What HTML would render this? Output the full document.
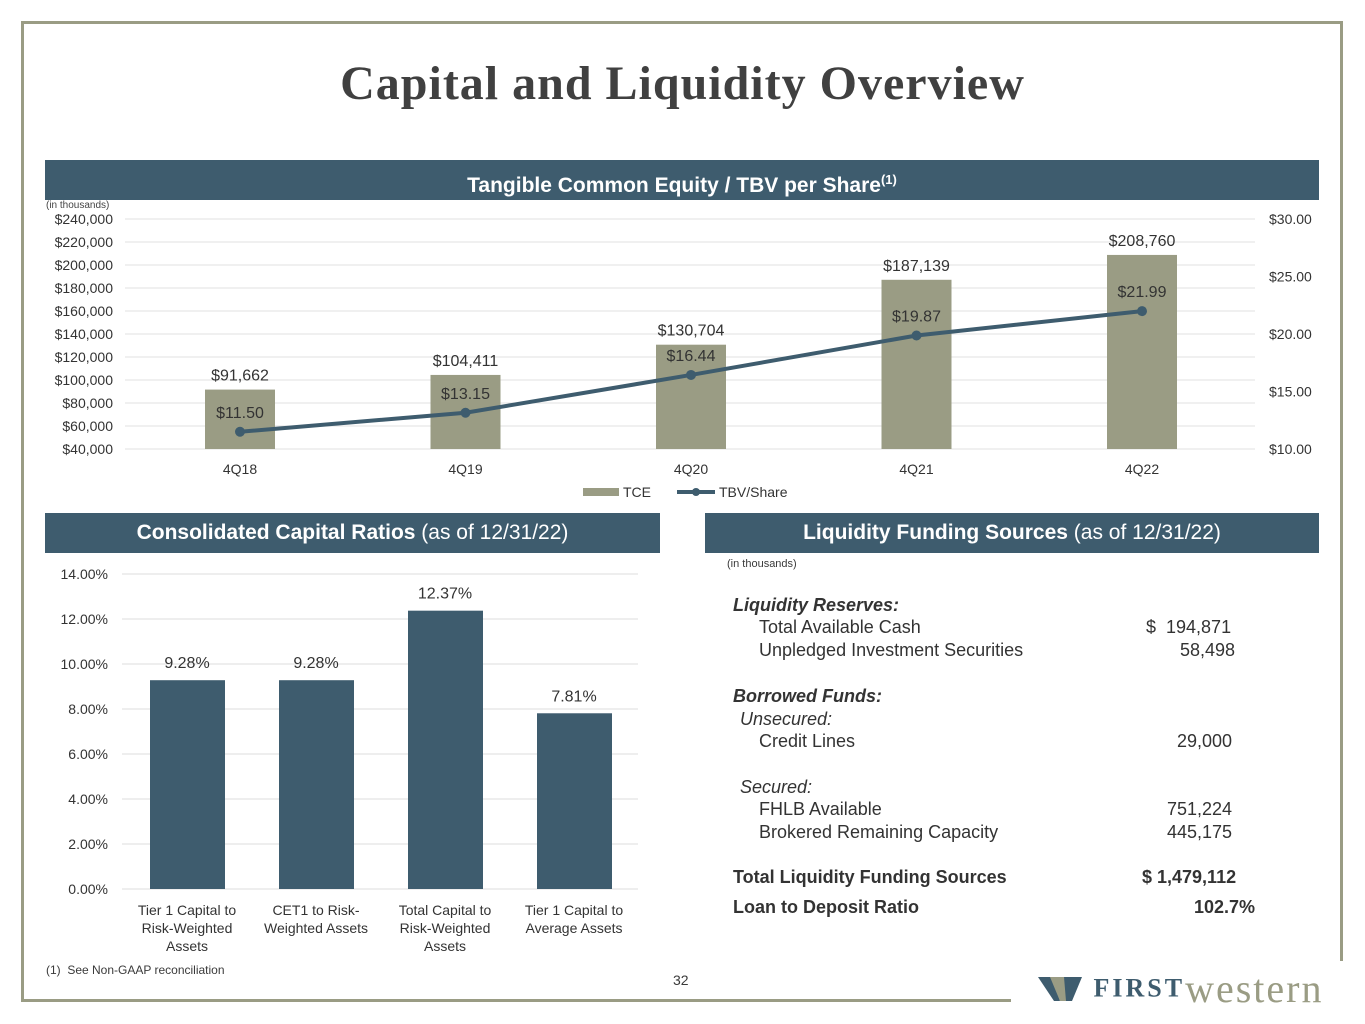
<!DOCTYPE html>
<html><head><meta charset="utf-8"><style>
body{margin:0;width:1365px;height:1024px;background:#fff;font-family:"Liberation Sans",sans-serif;position:relative;overflow:hidden;color:#3a3a3a}
.abs{position:absolute}
.band{position:absolute;background:#3e5c6e;color:#fff;font-weight:bold;font-size:21px;text-align:center;line-height:40px;height:40px}
.band span{font-weight:normal}
.liq{position:absolute;font-size:18px;color:#333}
</style></head><body>
<div class="abs" style="left:22px;top:21px;width:1321px;height:3px;background:#9a9c84"></div>
<div class="abs" style="left:21px;top:21px;width:3px;height:981px;background:#9a9c84"></div>
<div class="abs" style="left:21px;top:999px;width:990px;height:3px;background:#9a9c84"></div>
<div class="abs" style="left:1340px;top:21px;width:3px;height:940px;background:#9a9c84"></div>
<div class="abs" style="left:0;width:1365px;top:56px;text-align:center;font-family:'Liberation Serif',serif;font-weight:bold;font-size:48px;letter-spacing:1px;color:#404040">Capital and Liquidity Overview</div>
<div class="band" style="left:45px;top:160px;width:1274px">Tangible Common Equity / TBV per Share<sup style="font-size:13px">(1)</sup></div>
<div class="band" style="left:45px;top:513px;width:615px">Consolidated Capital Ratios <span>(as of 12/31/22)</span></div>
<div class="band" style="left:705px;top:513px;width:614px">Liquidity Funding Sources <span>(as of 12/31/22)</span></div>

<svg id="top" class="abs" style="left:0;top:0" width="1365" height="510"></svg>
<svg id="bot" class="abs" style="left:0;top:0" width="700" height="1024"></svg>

<div class="abs" style="left:727px;top:558px;font-size:11px">(in thousands)</div>
<div class="liq" style="left:733px;top:595px;font-weight:bold;font-style:italic">Liquidity Reserves:</div>
<div class="liq" style="left:759px;top:617px">Total Available Cash</div>
<div class="liq" style="left:1146px;top:617px">$&nbsp;&nbsp;194,871</div>
<div class="liq" style="left:759px;top:640px">Unpledged Investment Securities</div>
<div class="liq" style="left:1180px;top:640px">58,498</div>
<div class="liq" style="left:733px;top:686px;font-weight:bold;font-style:italic">Borrowed Funds:</div>
<div class="liq" style="left:740px;top:709px;font-style:italic">Unsecured:</div>
<div class="liq" style="left:759px;top:731px">Credit Lines</div>
<div class="liq" style="left:1177px;top:731px">29,000</div>
<div class="liq" style="left:740px;top:777px;font-style:italic">Secured:</div>
<div class="liq" style="left:759px;top:799px">FHLB Available</div>
<div class="liq" style="left:1167px;top:799px">751,224</div>
<div class="liq" style="left:759px;top:822px">Brokered Remaining Capacity</div>
<div class="liq" style="left:1167px;top:822px">445,175</div>
<div class="liq" style="left:733px;top:867px;font-weight:bold">Total Liquidity Funding Sources</div>
<div class="liq" style="left:1142px;top:867px;font-weight:bold">$ 1,479,112</div>
<div class="liq" style="left:733px;top:897px;font-weight:bold">Loan to Deposit Ratio</div>
<div class="liq" style="left:1194px;top:897px;font-weight:bold">102.7%</div>

<div class="abs" style="left:46px;top:963px;font-size:12px">(1)&nbsp; See Non-GAAP reconciliation</div>
<div class="abs" style="left:673px;top:972px;font-size:14px">32</div>
<div class="abs" style="left:1038px;top:965px;white-space:nowrap">
<svg width="46" height="32" style="vertical-align:middle"><polygon points="0,4 14,4 22,28 16,28" fill="#3e5c6e"/><polygon points="12,4 26,4 32,28 22,28" fill="#9a9c84"/><polygon points="26,4 44,4 34,28 28,28" fill="#3e5c6e"/></svg><span style="font-family:'Liberation Serif',serif;font-weight:bold;font-size:26px;color:#3e5c6e;letter-spacing:3px;vertical-align:middle"> FIRST</span><span style="font-family:'Liberation Serif',serif;font-size:40px;color:#9a9c84;letter-spacing:2px;vertical-align:middle">western</span></div>

<script>
const cats=["4Q18","4Q19","4Q20","4Q21","4Q22"];
const tce=[91662,104411,130704,187139,208760];
const tbv=[11.50,13.15,16.44,19.87,21.99];
const leftTicks=[40000,60000,80000,100000,120000,140000,160000,180000,200000,220000,240000];
const rightTicks=[10,15,20,25,30];
const ratioCats=[["Tier 1 Capital to","Risk-Weighted","Assets"],["CET1 to Risk-","Weighted Assets"],["Total Capital to","Risk-Weighted","Assets"],["Tier 1 Capital to","Average Assets"]];
const ratios=[9.28,9.28,12.37,7.81];
const ratioTicks=[0,2,4,6,8,10,12,14];
const NS="http://www.w3.org/2000/svg";
function mk(svg,tag,a,txt){const e=document.createElementNS(NS,tag);for(const k in a)e.setAttribute(k,a[k]);if(txt!==undefined)e.textContent=txt;svg.appendChild(e);return e;}
const fmt=v=>"$"+v.toLocaleString("en-US");
// top chart
const T=document.getElementById("top");
const yL=v=>449-(v-40000)/200000*230, yR=v=>449-(v-10)/20*230, xC=i=>240+i*225.5;
mk(T,"text",{x:46,y:208,"font-size":10,fill:"#444"},"(in thousands)");
leftTicks.forEach(v=>{let g=mk(T,"line",{x1:125,x2:1255,y1:yL(v),y2:yL(v),stroke:"#e0e0e0"});
let t=mk(T,"text",{x:113,y:yL(v)+5,"text-anchor":"end","font-size":14,fill:"#333"},fmt(v));});
rightTicks.forEach(v=>{let t=mk(T,"text",{x:1269,y:yR(v)+5,"font-size":14,fill:"#333"},"$"+v.toFixed(2));});
cats.forEach((c,i)=>{let b=mk(T,"rect",{x:xC(i)-35,y:yL(tce[i]),width:70,height:449-yL(tce[i]),fill:"#9a9c84"});
let l=mk(T,"text",{x:xC(i),y:yL(tce[i])-9,"text-anchor":"middle","font-size":16,fill:"#333"},fmt(tce[i]));
let x=mk(T,"text",{x:xC(i),y:474,"text-anchor":"middle","font-size":14,fill:"#333"},c);});
let pl=mk(T,"polyline",{points:tbv.map((v,i)=>xC(i)+","+yR(v)).join(" "),fill:"none",stroke:"#3e5c6e","stroke-width":4});
tbv.forEach((v,i)=>{let p=mk(T,"circle",{cx:xC(i),cy:yR(v),r:5,fill:"#3e5c6e"});
let l=mk(T,"text",{x:xC(i),y:yR(v)-14,"text-anchor":"middle","font-size":16,fill:"#333"},"$"+v.toFixed(2));});
let lg1=mk(T,"rect",{x:583,y:488,width:36,height:8,fill:"#9a9c84"});
mk(T,"text",{x:623,y:497,"font-size":14,fill:"#333"},"TCE");
mk(T,"line",{x1:677,x2:715,y1:492,y2:492,stroke:"#3e5c6e","stroke-width":4});
mk(T,"circle",{cx:696,cy:492,r:4,fill:"#3e5c6e"});
mk(T,"text",{x:719,y:497,"font-size":14,fill:"#333"},"TBV/Share");
// bottom chart
const B=document.getElementById("bot");
const yB=v=>889-v/14*315, xB=i=>187+i*129;
ratioTicks.forEach(v=>{let g=mk(B,"line",{x1:122,x2:638,y1:yB(v),y2:yB(v),stroke:"#dcdcdc"});
let t=mk(B,"text",{x:108,y:yB(v)+5,"text-anchor":"end","font-size":14,fill:"#333"},v.toFixed(2)+"%");});
ratios.forEach((v,i)=>{let b=mk(B,"rect",{x:xB(i)-37,y:yB(v),width:75,height:889-yB(v),fill:"#3e5c6e"});
let l=mk(B,"text",{x:xB(i),y:yB(v)-12,"text-anchor":"middle","font-size":16,fill:"#333"},v.toFixed(2)+"%");
ratioCats[i].forEach((s,j)=>{let t=mk(B,"text",{x:xB(i),y:915+j*18,"text-anchor":"middle","font-size":14,fill:"#333"},s);});});
</script>
</body></html>
